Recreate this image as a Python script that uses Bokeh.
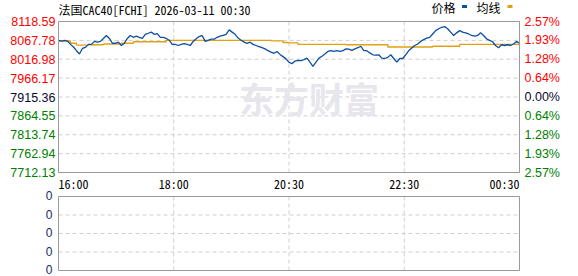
from bokeh.plotting import figure
from bokeh.models import Range1d, ColumnDataSource
from bokeh.core.properties import value
from bokeh.embed import file_html
from bokeh.resources import INLINE

# ---------------- data ----------------
title_text = "法国CAC40[FCHI] 2026-03-11 00:30"
legend_labels = ["价格", "均线"]
watermark = "东方财富"

price = [
    8068, 8066, 8068, 8066, 8057, 8050, 8040, 8031, 8046, 8049,
    8057, 8057, 8065, 8063, 8065, 8073, 8081, 8073, 8060, 8060,
    8063, 8054, 8060, 8073, 8081, 8076, 8079, 8076, 8073, 8084,
    8087, 8090, 8084, 8086, 8076, 8076, 8073, 8068, 8057, 8057,
    8054, 8057, 8059, 8057, 8054, 8065, 8072, 8078, 8081, 8065,
    8068, 8071, 8071, 8076, 8079, 8081, 8084, 8096, 8090, 8084,
    8074, 8068, 8063, 8060, 8063, 8057, 8054, 8051, 8048, 8045,
    8040, 8036, 8033, 8038, 8030, 8024, 8018, 8009, 8005, 8012,
    8014, 8013, 8016, 8020, 8009, 7998, 8009, 8020, 8025, 8031,
    8038, 8040, 8038, 8040, 8038, 8040, 8045, 8044, 8041, 8045,
    8048, 8052, 8040, 8040, 8034, 8029, 8028, 8029, 8020, 8019,
    8022, 8029, 8019, 8009, 8019, 8019, 8029, 8040,
    8047, 8054, 8058, 8065, 8070, 8074, 8076, 8085, 8094, 8099,
    8103, 8105, 8099, 8090, 8081, 8088, 8094, 8090, 8088, 8085,
    8081, 8079, 8081, 8088, 8081, 8072, 8068, 8064, 8054, 8048,
    8056, 8054, 8056, 8054, 8058, 8065, 8060,
]
avg_idx = [0, 4, 6, 10, 15, 21, 25, 36, 71, 75, 77, 80, 96, 110, 125, 134, 154]
avg_val = [8066, 8060, 8055, 8056, 8058, 8060, 8064, 8067.78, 8066.5, 8062,
           8061, 8057, 8056, 8050, 8052, 8057, 8057]

price_ticks = [8118.59, 8067.78, 8016.98, 7966.17, 7915.36,
               7864.55, 7813.74, 7762.94, 7712.13]
pct_labels = ["2.57%", "1.93%", "1.28%", "0.64%", "0.00%",
              "0.64%", "1.28%", "1.93%", "2.57%"]
time_labels = ["16:00", "18:00", "20:30", "22:30", "00:30"]
vol_ticks = [0, 1, 2, 3, 4]
vol_labels = ["0", "0", "0", "0", "0"]

# ---------------- layout constants (pixels) ----------------
W, H = 578, 276
FL, FR = 58, 519          # plot-area left / right
PT, PB = 21, 172          # price panel top / bottom
VT, VB = 196, 270         # volume panel top / bottom

RED, GREEN, DARK = "#ff0000", "#008000", "#0a0a30"
BLUE, ORANGE = "#0c4fa3", "#e2a112"
GRID = "#cfcfcf"
BORDER = "#9a9a9a"
NUM_FONT = value("Liberation Sans")
MONO = value("'Noto Sans Mono CJK SC', 'Noto Sans CJK SC', monospace")
CJK = value("Noto Sans CJK SC")

n = len(price)
xs = list(range(n))
time_pos = [(n - 1) * k / 4 for k in range(5)]
base = price_ticks[4]
pmax, pmin = price_ticks[0], price_ticks[-1]

# scales so that the data area lands on the panel rectangles
sx = (FR - FL) / (n - 1)
x_range = Range1d(-FL / sx, (n - 1) + (W - FR) / sx)
sy = (PB - PT) / (pmax - pmin)
y_range = Range1d(pmin - (H - PB) / sy, pmax + PT / sy)
sv = (VB - VT) / (vol_ticks[-1] - vol_ticks[0])
v_range = Range1d(vol_ticks[0] - (H - VB) / sv, vol_ticks[-1] + VT / sv)


def px_x(px):
    return (px - FL) / sx


def py_y(py):
    return pmax + (PT - py) / sy


p = figure(width=W, height=H, x_range=x_range, y_range=y_range,
           x_axis_location=None, y_axis_location=None, title=None,
           toolbar_location=None, output_backend="svg",
           min_border=0, min_border_left=0, min_border_right=0,
           min_border_top=0, min_border_bottom=0)
p.extra_y_ranges = {"vol": v_range}
p.grid.visible = False
p.outline_line_color = None
p.background_fill_color = "white"
p.border_fill_color = "white"

# ---------------- grids ----------------
gx = time_pos[1:-1]
p.segment(x0=gx, x1=gx, y0=[pmin] * len(gx), y1=[pmax] * len(gx),
          line_color=GRID, line_dash="4 3", line_width=1)
gy = price_ticks[1:-1]
p.segment(x0=[0] * len(gy), x1=[n - 1] * len(gy), y0=gy, y1=gy,
          line_color=GRID, line_dash="4 3", line_width=1)
p.segment(x0=gx, x1=gx, y0=[vol_ticks[0]] * len(gx), y1=[vol_ticks[-1]] * len(gx),
          line_color=GRID, line_dash="4 3", line_width=1, y_range_name="vol")
gv = vol_ticks[1:-1]
p.segment(x0=[0] * len(gv), x1=[n - 1] * len(gv), y0=gv, y1=gv,
          line_color=GRID, line_dash="4 3", line_width=1, y_range_name="vol")

# ---------------- watermark ----------------
p.text(x=[(n - 1) / 2], y=[base], text=[watermark], x_offset=[20], y_offset=[0],
       text_align="center", text_baseline="middle", text_font=CJK,
       text_font_style="bold", text_font_size="35px", text_color="#e6e6ec")

# ---------------- series ----------------
p.step(avg_idx, avg_val, mode="after", line_color=ORANGE, line_width=1.4)
p.line(xs, price, line_color=BLUE, line_width=1.3)

# ---------------- panel borders ----------------
p.quad(left=[0], right=[n - 1], bottom=[pmin], top=[pmax],
       fill_color=None, line_color=BORDER, line_width=1)
p.quad(left=[0], right=[n - 1], bottom=[vol_ticks[0]], top=[vol_ticks[-1]],
       fill_color=None, line_color=BORDER, line_width=1, y_range_name="vol")

# ---------------- tick labels ----------------
colors = [RED if v > base + 1e-6 else (GREEN if v < base - 1e-6 else DARK)
          for v in price_ticks]
left_src = ColumnDataSource(dict(x=[0] * len(price_ticks), y=price_ticks,
                                 t=[f"{v:.2f}" for v in price_ticks], c=colors))
p.text(x="x", y="y", text="t", text_color="c", source=left_src, x_offset=-3,
       text_align="right", text_baseline="middle", text_font=NUM_FONT,
       text_font_size="12.5px")
right_src = ColumnDataSource(dict(x=[n - 1] * len(price_ticks), y=price_ticks,
                                  t=pct_labels, c=colors))
p.text(x="x", y="y", text="t", text_color="c", source=right_src, x_offset=5,
       text_align="left", text_baseline="middle", text_font=NUM_FONT,
       text_font_size="12.5px")

time_src = ColumnDataSource(dict(x=time_pos, y=[pmin] * 5, t=time_labels,
                                 a=["left", "center", "center", "center", "right"]))
p.text(x="x", y="y", text="t", text_align="a", source=time_src, y_offset=11,
       text_baseline="middle", text_font=MONO, text_font_size="12px",
       text_color="#000000")

vol_src = ColumnDataSource(dict(x=[0] * len(vol_ticks), y=vol_ticks, t=vol_labels))
p.text(x="x", y="y", text="t", source=vol_src, x_offset=-6, y_offset=-1,
       y_range_name="vol", text_align="right", text_baseline="middle",
       text_font=NUM_FONT, text_font_size="12px", text_color="#102a6a")

# ---------------- title & legend ----------------
p.text(x=[0], y=[pmax], text=[title_text], y_offset=-12.5,
       text_align="left", text_baseline="middle", text_font=MONO,
       text_font_size="12px", text_color="#000000")
p.text(x=[px_x(431), px_x(476)], y=[pmax, pmax], text=legend_labels, y_offset=-14.5,
       text_align="left", text_baseline="middle", text_font=CJK,
       text_font_size="12px", text_color="#000000")
p.rect(x=[px_x(464), px_x(509.5)], y=[py_y(6), py_y(6)], width=5, height=3,
       width_units="screen", height_units="screen",
       fill_color=[BLUE, ORANGE], line_color=None)

open("out.html", "w").write(file_html(p, INLINE))
